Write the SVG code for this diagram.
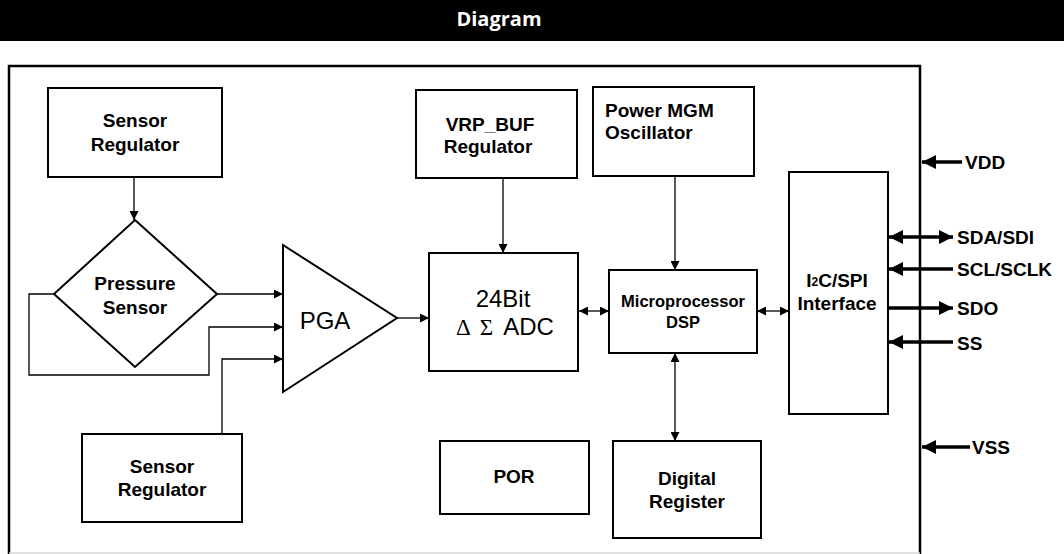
<svg xmlns="http://www.w3.org/2000/svg" width="1064" height="554" viewBox="0 0 1064 554">
<defs>
<style>
.box{fill:#fff;stroke:#000;stroke-width:2}
.t{font-family:"Liberation Sans",Arial,sans-serif;font-weight:bold;font-size:19px;fill:#000;text-anchor:middle}
.tl{font-family:"Liberation Sans",Arial,sans-serif;font-weight:bold;font-size:19px;fill:#000}
.tr{font-family:"Liberation Sans",Arial,sans-serif;font-size:24px;fill:#000;text-anchor:middle}
.c{fill:none;stroke:#000;stroke-width:1.3}
.p{fill:none;stroke:#000;stroke-width:3.5}
</style>
<marker id="a" viewBox="0 0 10 10" refX="10" refY="5" markerWidth="9" markerHeight="9" markerUnits="userSpaceOnUse" orient="auto-start-reverse"><path d="M0,0 L10,5 L0,10 z" fill="#000"/></marker>
<marker id="b" viewBox="0 0 10 10" refX="10" refY="5" markerWidth="4" markerHeight="4" orient="auto-start-reverse"><path d="M0,0 L10,5 L0,10 z" fill="#000"/></marker>
</defs>
<rect x="0" y="0" width="1064" height="41" fill="#000"/>
<text x="499" y="26" font-family="'Open Sans',sans-serif" font-weight="bold" font-size="20" fill="#fff" text-anchor="middle">Diagram</text>
<path id="outer" d="M9,560 V66 H920 V560" fill="none" stroke="#000" stroke-width="2.5"/>
<line x1="9" y1="553" x2="920" y2="553" stroke="#d8d8d8" stroke-width="1.5"/>

<g id="connectors">
<path class="c" d="M134,177 V220" marker-end="url(#a)"/>
<path class="c" d="M217,294 H283" marker-end="url(#a)"/>
<path class="c" d="M54,294 H29 V375 H209 V327 H283" marker-end="url(#a)"/>
<path class="c" d="M222,434 V359 H283" marker-end="url(#a)"/>
<path class="c" d="M397,318 H429" marker-end="url(#a)"/>
<path class="c" d="M503,178 V253" marker-end="url(#a)"/>
<path class="c" d="M675,177 V270" marker-end="url(#a)"/>
<path class="c" d="M579,311 H609" marker-start="url(#a)" marker-end="url(#a)"/>
<path class="c" d="M757,311 H789" marker-start="url(#a)" marker-end="url(#a)"/>
<path class="c" d="M675,353 V441" marker-start="url(#a)" marker-end="url(#a)"/>
<path class="p" d="M962,162 H922" marker-end="url(#b)"/>
<path class="p" d="M889,237 H953" marker-start="url(#b)" marker-end="url(#b)"/>
<path class="p" d="M953,269 H889" marker-end="url(#b)"/>
<path class="p" d="M889,308 H953" marker-end="url(#b)"/>
<path class="p" d="M953,342 H889" marker-end="url(#b)"/>
<path class="p" d="M970,447 H922" marker-end="url(#b)"/>
</g>

<g id="sensor-reg-top">
<rect class="box" x="48" y="88" width="174" height="89"/>
<text class="t" x="135" y="127">Sensor</text>
<text class="t" x="135" y="151">Regulator</text>
</g>
<g id="pressure-sensor">
<polygon class="box" points="135,220 217,294 135,367 54,294"/>
<text class="t" x="135" y="290">Pressure</text>
<text class="t" x="135" y="314">Sensor</text>
</g>
<g id="pga">
<polygon class="box" points="283,245 397,318 283,392"/>
<text class="tr" x="325" y="329">PGA</text>
</g>
<g id="sensor-reg-bottom">
<rect class="box" x="82" y="434" width="160" height="88"/>
<text class="t" x="162" y="473">Sensor</text>
<text class="t" x="162" y="496">Regulator</text>
</g>
<g id="vrp-buf">
<rect class="box" x="416" y="90" width="161" height="88"/>
<text class="t" x="490" y="131">VRP_BUF</text>
<text class="t" x="488" y="153">Regulator</text>
</g>
<g id="power-mgm">
<rect class="box" x="593" y="87" width="161" height="89"/>
<text class="tl" x="605" y="117">Power MGM</text>
<text class="tl" x="605" y="139">Oscillator</text>
</g>
<g id="adc">
<rect class="box" x="429" y="253" width="149" height="118"/>
<text class="tr" x="503" y="307">24Bit</text>
<text class="tr" x="505" y="335"><tspan font-family="'Liberation Serif',serif" font-size="23">Δ</tspan><tspan font-family="'Liberation Serif',serif" font-size="23" dx="9">Σ</tspan><tspan dx="10">ADC</tspan></text>
</g>
<g id="micro">
<rect class="box" x="609" y="270" width="148" height="83"/>
<text class="t" x="683" y="307" style="font-size:16.5px">Microprocessor</text>
<text class="t" x="683" y="328" style="font-size:16.5px">DSP</text>
</g>
<g id="i2c">
<rect class="box" x="789" y="172" width="99" height="242"/>
<text class="t" x="837" y="287">I<tspan font-size="12" dy="-1">2</tspan><tspan dy="1">C/SPI</tspan></text>
<text class="t" x="837" y="310">Interface</text>
</g>
<g id="por">
<rect class="box" x="440" y="441" width="149" height="73"/>
<text class="t" x="514" y="483">POR</text>
</g>
<g id="digital-register">
<rect class="box" x="613" y="441" width="148" height="97"/>
<text class="t" x="687" y="485">Digital</text>
<text class="t" x="687" y="508">Register</text>
</g>
<g id="pins">
<text class="tl" x="965" y="169">VDD</text>
<text class="tl" x="957" y="244">SDA/SDI</text>
<text class="tl" x="957" y="276">SCL/SCLK</text>
<text class="tl" x="957" y="315">SDO</text>
<text class="tl" x="957" y="350">SS</text>
<text class="tl" x="972" y="454">VSS</text>
</g>
</svg>
